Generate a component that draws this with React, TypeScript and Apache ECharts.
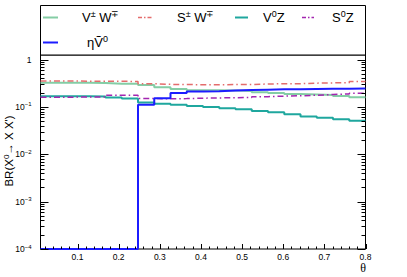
import React, { useEffect, useRef } from 'react';
import * as echarts from 'echarts';

const binEdges = [0.01, 0.0495, 0.089, 0.1285, 0.168, 0.2075, 0.247, 0.2865, 0.326, 0.3655, 0.405, 0.4445, 0.484, 0.5235, 0.563, 0.6025, 0.642, 0.6815, 0.721, 0.7605, 0.8];

const vwValues = [0.325, 0.325, 0.323, 0.32, 0.31, 0.31, 0.29, 0.26, 0.24, 0.226, 0.224, 0.222, 0.218, 0.205, 0.197, 0.188, 0.183, 0.178, 0.17, 0.161];
const swValues = [0.355, 0.352, 0.35, 0.35, 0.348, 0.345, 0.31, 0.3, 0.297, 0.295, 0.295, 0.297, 0.298, 0.305, 0.31, 0.31, 0.318, 0.322, 0.325, 0.345];
const vzValues = [0.169, 0.169, 0.168, 0.167, 0.158, 0.15, 0.124, 0.117, 0.111, 0.105, 0.1, 0.094, 0.089, 0.082, 0.077, 0.07, 0.063, 0.059, 0.055, 0.051];
const szValues = [0.161, 0.161, 0.162, 0.162, 0.177, 0.177, 0.15, 0.149, 0.15, 0.153, 0.155, 0.157, 0.159, 0.165, 0.169, 0.172, 0.177, 0.183, 0.188, 0.195];
const etaValues = [0.0001, 0.0001, 0.0001, 0.0001, 0.0001, 0.0001, 0.111, 0.153, 0.198, 0.212, 0.215, 0.222, 0.228, 0.232, 0.235, 0.237, 0.24, 0.242, 0.243, 0.245];

const xLabelTicks = [0.1, 0.2, 0.3, 0.4, 0.5, 0.6, 0.7, 0.8];
const xMinorTicks = [0.02, 0.04, 0.06, 0.08, 0.12, 0.14, 0.16, 0.18, 0.22, 0.24, 0.26, 0.28, 0.32, 0.34, 0.36, 0.38, 0.42, 0.44, 0.46, 0.48, 0.52, 0.54, 0.56, 0.58, 0.62, 0.64, 0.66, 0.68, 0.72, 0.74, 0.76, 0.78];
const yMajorTicks = [0.0001, 0.001, 0.01, 0.1, 1];
const yMinorTicks = [
  0.0002, 0.0003, 0.0004, 0.0005, 0.0006, 0.0007, 0.0008, 0.0009,
  0.002, 0.003, 0.004, 0.005, 0.006, 0.007, 0.008, 0.009,
  0.02, 0.03, 0.04, 0.05, 0.06, 0.07, 0.08, 0.09,
  0.2, 0.3, 0.4, 0.5, 0.6, 0.7, 0.8, 0.9,
];

const X_MIN = 0.01;
const X_MAX = 0.8;
const Y_MIN = 0.0001;
const Y_MAX = 1.25;

const FONT = '"Liberation Sans", Arial, Helvetica, sans-serif';
const SERIF = '"Liberation Serif", "DejaVu Serif", serif';

const COLORS = {
  vw: '#84cda5',
  sw: '#e46c6c',
  vz: '#1fa79e',
  sz: '#a326b0',
  eta: '#1c1cff',
};

function histData(vals: number[]) {
  return binEdges.map((e, i) => [e, vals[Math.min(i, vals.length - 1)]]);
}

function xTickSeries(ticks: number[], len: number) {
  return {
    type: 'custom',
    silent: true,
    clip: false,
    z: 10,
    data: ticks.map((v) => [v, Y_MIN]),
    renderItem: (params: any, api: any) => {
      const p = api.coord([api.value(0), api.value(1)]);
      const x = Math.round(p[0]) + 0.5;
      return {
        type: 'line',
        shape: { x1: x, y1: p[1], x2: x, y2: p[1] - len },
        style: { stroke: '#000', lineWidth: 1 },
      };
    },
  };
}

function yTickSeries(ticks: number[], len: number) {
  return {
    type: 'custom',
    silent: true,
    clip: false,
    z: 10,
    data: ticks.map((v) => [X_MIN, v]),
    renderItem: (params: any, api: any) => {
      const pl = api.coord([X_MIN, api.value(1)]);
      const pr = api.coord([X_MAX, api.value(1)]);
      const y = Math.round(pl[1]) + 0.5;
      return {
        type: 'group',
        children: [
          { type: 'line', shape: { x1: pl[0], y1: y, x2: pl[0] + len, y2: y }, style: { stroke: '#000', lineWidth: 1 } },
          { type: 'line', shape: { x1: pr[0], y1: y, x2: pr[0] - len, y2: y }, style: { stroke: '#000', lineWidth: 1 } },
        ],
      };
    },
  };
}

const legendRich = {
  n: { fontSize: 13, fontFamily: FONT, color: '#000', lineHeight: 16 },
  s: { fontSize: 9, fontFamily: FONT, color: '#000', verticalAlign: 'top', lineHeight: 9 },
};

function legendLine(x1: number, x2: number, y: number, color: string, dash: any, width: number) {
  return {
    type: 'line',
    shape: { x1, y1: y, x2, y2: y },
    style: { stroke: color, lineWidth: width, lineDash: dash },
    z: 20,
  };
}

function legendText(x: number, y: number, text: string) {
  return {
    type: 'text',
    x,
    y,
    z: 20,
    style: { text, rich: legendRich, align: 'left', verticalAlign: 'middle', font: '13px ' + FONT },
  };
}

export default function App() {
  const ref = useRef<HTMLDivElement>(null);

  useEffect(() => {
    if (!ref.current) return;
    const chart = echarts.init(ref.current, undefined, { renderer: 'svg' });
    const dashDot = [6, 3, 1.5, 3];
    const dashDotDot = [6, 2, 1.5, 2, 1.5, 2];

    const option: any = {
      animation: false,
      backgroundColor: '#fff',
      grid: {
        left: 40.5,
        top: 55,
        width: 325,
        height: 194,
        show: true,
        borderColor: '#000',
        borderWidth: 1,
        backgroundColor: 'transparent',
        containLabel: false,
      },
      xAxis: {
        type: 'value',
        min: X_MIN,
        max: X_MAX,
        axisLine: { show: false },
        axisTick: { show: false },
        splitLine: { show: false },
        axisLabel: {
          customValues: xLabelTicks,
          formatter: (v: number) => v.toFixed(1),
          fontSize: 8.5,
          fontFamily: FONT,
          color: '#000',
          margin: 3,
        },
      },
      yAxis: {
        type: 'log',
        logBase: 10,
        min: Y_MIN,
        max: Y_MAX,
        axisLine: { show: false },
        axisTick: { show: false },
        splitLine: { show: false },
        axisLabel: {
          margin: 9,
          color: '#000',
          formatter: (v: number) => {
            const e = Math.log10(v);
            const r = Math.round(e);
            if (Math.abs(e - r) > 1e-6) return '';
            if (r === 0) return '{b|1}';
            return '{b|10}{s|\u2212' + Math.abs(r) + '}';
          },
          rich: {
            b: { fontSize: 8.5, fontFamily: FONT, color: '#000', lineHeight: 11 },
            s: { fontSize: 6, fontFamily: FONT, color: '#000', verticalAlign: 'top', lineHeight: 7 },
          },
        },
      },
      graphic: [
        {
          type: 'rect',
          shape: { x: 40.5, y: 5.5, width: 325, height: 49.5 },
          style: { fill: '#fff', stroke: '#000', lineWidth: 1 },
          z: 15,
        },
        legendLine(43, 58, 17.5, COLORS.vw, null, 2),
        legendText(82, 17, '{n|V}{s|\u00b1} {n|W}{s|\u2213}'),
        legendLine(138, 152, 17.5, COLORS.sw, [4, 2, 1.5, 2], 1.5),
        legendText(177, 17, '{n|S}{s|\u00b1} {n|W}{s|\u2213}'),
        legendLine(235, 248, 17.5, COLORS.vz, null, 2),
        legendText(263, 17, '{n|V}{s|0}{n|Z}'),
        legendLine(302, 314, 17.5, COLORS.sz, [4, 2, 1.5, 2], 1.5),
        legendText(332, 17, '{n|S}{s|0}{n|Z}'),
        legendLine(43, 58, 42.5, COLORS.eta, null, 2),
        legendText(87, 42, '{n|\u03b7\u1e7c}{s|0}'),
        {
          type: 'text',
          x: 363,
          y: 268,
          z: 20,
          style: { text: '\u03b8', font: '12px ' + SERIF, fill: '#000', align: 'center', verticalAlign: 'middle' },
        },
        {
          type: 'text',
          x: 9,
          y: 151,
          rotation: Math.PI / 2,
          z: 20,
          style: {
            text: "{n|BR(X}{s|0}{n|\u2192 X X')}",
            align: 'center',
            verticalAlign: 'middle',
            font: '11.5px ' + FONT,
            rich: {
              n: { fontSize: 11.5, fontFamily: FONT, color: '#000', lineHeight: 14 },
              s: { fontSize: 8, fontFamily: FONT, color: '#000', verticalAlign: 'top', lineHeight: 8 },
            },
          },
        },
      ],
      series: [
        {
          type: 'line',
          name: 'VW',
          step: 'end',
          showSymbol: false,
          symbol: 'none',
          data: histData(vwValues),
          lineStyle: { color: COLORS.vw, width: 2 },
          z: 3,
        },
        {
          type: 'line',
          name: 'SW',
          step: 'end',
          showSymbol: false,
          symbol: 'none',
          data: histData(swValues),
          lineStyle: { color: COLORS.sw, width: 1.5, type: dashDot },
          z: 3,
        },
        {
          type: 'line',
          name: 'VZ',
          step: 'end',
          showSymbol: false,
          symbol: 'none',
          data: histData(vzValues),
          lineStyle: { color: COLORS.vz, width: 2 },
          z: 3,
        },
        {
          type: 'line',
          name: 'SZ',
          step: 'end',
          showSymbol: false,
          symbol: 'none',
          data: histData(szValues),
          lineStyle: { color: COLORS.sz, width: 1.5, type: dashDot },
          z: 3,
        },
        {
          type: 'line',
          name: 'eta',
          step: 'end',
          showSymbol: false,
          symbol: 'none',
          data: histData(etaValues),
          lineStyle: { color: COLORS.eta, width: 2 },
          z: 4,
          clip: false,
        },
        xTickSeries(xLabelTicks, 5),
        xTickSeries(xMinorTicks, 2.5),
        yTickSeries(yMajorTicks, 8),
        yTickSeries(yMinorTicks, 4),
      ],
    };
    chart.setOption(option);
    return () => chart.dispose();
  }, []);

  return (
    <div
      ref={ref}
      style={{ position: 'absolute', left: 0, top: 0, width: 407, height: 277, background: '#fff' }}
    />
  );
}
